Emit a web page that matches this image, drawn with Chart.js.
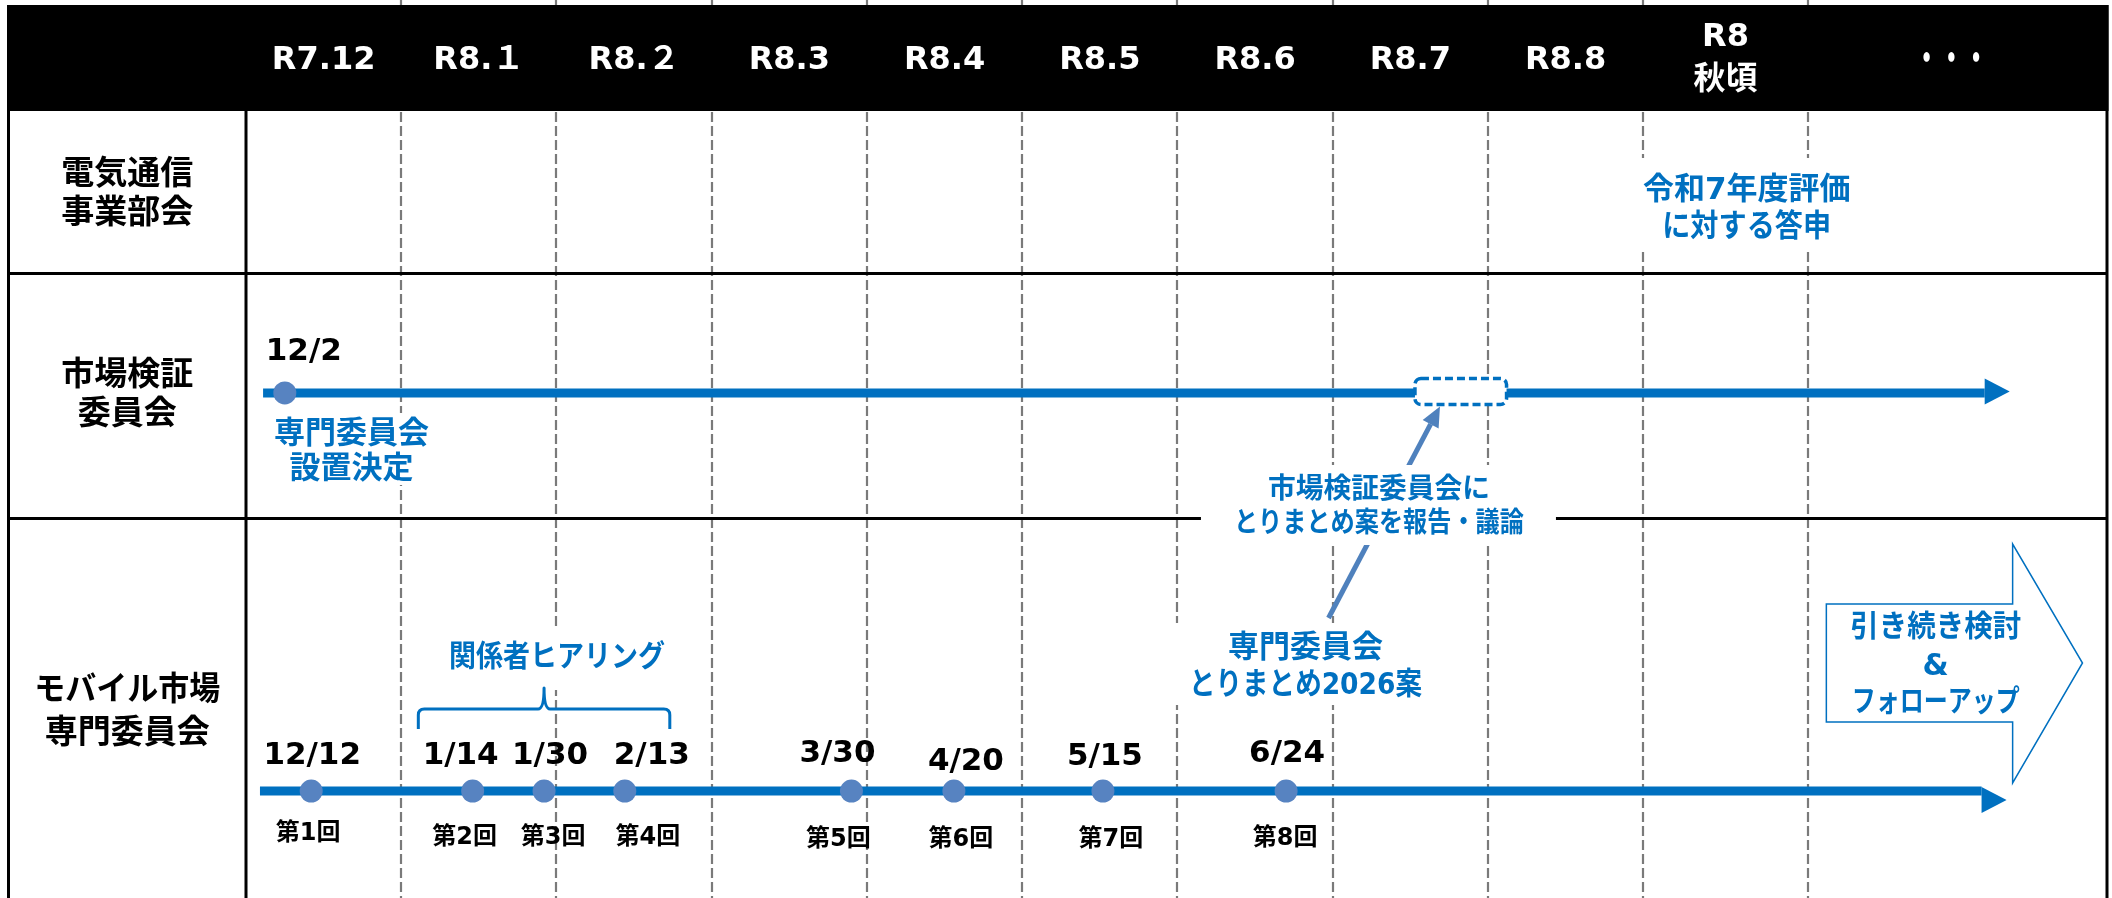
<!DOCTYPE html>
<html lang="ja">
<head>
<meta charset="utf-8">
<script src="https://cdn.jsdelivr.net/npm/chart.js@4.4.1/dist/chart.umd.min.js"></script>
<style>html,body{margin:0;padding:0;background:#fff;overflow:hidden}canvas{display:block}</style>
</head>
<body>
<canvas id="c" width="2112" height="898"></canvas>
<script>
// ===== data =====
const periodLabels = ['R7.12', 'R8.１', 'R8.２', 'R8.3', 'R8.4', 'R8.5', 'R8.6', 'R8.7', 'R8.8', ['R8', '秋頃'], '・・・'];
const periodEdges = [0, 1, 2, 3, 4, 5, 6, 7, 8, 9, 10.06, 11.91]; // month-column boundaries (months from R7.12)
const rowLabels = [['電気通信', '事業部会'], ['市場検証', '委員会'], ['モバイル市場', '専門委員会']];

const committeeDates = ['12/2'];
const committeeX = [0.25];
const committeeSpan = [0.11, 11.20];

const meetingDates = ['12/12', '1/14', '1/30', '2/13', '3/30', '4/20', '5/15', '6/24'];
const meetingNames = ['第1回', '第2回', '第3回', '第4回', '第5回', '第6回', '第7回', '第8回'];
const meetingX = [0.42, 1.46, 1.92, 2.44, 3.90, 4.56, 5.52, 6.70];
const expertSpan = [0.09, 11.18];

const hearingSpan = [1.11, 2.73];
const reportWindow = [7.53, 8.12];
const continueSpan = [10.18, 11.38, 11.83];

// ===== layout / style =====
const X_MAX = 11.946;
const L = {
  top: 5, headerBottom: 111, rowDiv: [273.5, 518.5], left: 8.5, right: 2107, labelRight: 246,
  committeeY: 391.5, expertY: 800,
  headerY: 61, headerY2: [38, 81],
  rowLabelY: [[175, 214], [376, 415], [691, 734]],
  committeeDate: { dx: 19, y: 352 },
  meetDateDx: [1, -12, 6, 27, -14, 12, 2, 1],
  meetDateY: [756, 756, 756, 756, 754, 762, 757, 754],
  meetNthDx: [-3, -8, 9, 23, -13, 7, 8, -1],
  meetNthY: [834, 838, 838, 838, 840, 840, 840, 839]
};
const C = { blue: '#0070C0', dot: '#5783C1', callout: '#4F81BD', grid: '#7A7A7A', black: '#000000' };
const FONT = '"DejaVu Sans","Noto Sans CJK JP",sans-serif';
const notes = [
  { lines: ['令和7年度評価', 'に対する答申'], x: 9.667, ys: [191, 228], size: 31, fit: [0, 169], box: [-125, 125, 158, 252] },
  { lines: ['専門委員会', '設置決定'], x: 0.679, ys: [435, 470], size: 31, fit: [0, 0], box: [-82, 82, 413, 485] },
  { lines: ['市場検証委員会に', 'とりまとめ案を報告・議論'], x: 7.298, ys: [491, 525], size: 28, fit: [222, 290], box: [-178, 177, 465, 545] },
  { lines: ['関係者ヒアリング'], x: 2.004, ys: [658], size: 30, fit: [216], box: [-110, 110, 627, 690] },
  { lines: ['専門委員会', 'とりまとめ2026案'], x: 6.825, ys: [649, 686], size: 31, fit: [0, 233], box: [-140, 140, 623, 705] },
  { lines: ['引き続き検討', '&', 'フォローアップ'], x: 10.884, ys: [628, 667, 703], size: 30, fit: [171, 0, 168] }
];

function drawText(ctx, s, x, y, size, color, fit) {
  ctx.font = 'bold ' + size + 'px ' + FONT;
  ctx.fillStyle = color;
  ctx.textAlign = 'center';
  ctx.textBaseline = 'middle';
  if (fit) ctx.fillText(s, x, y, fit); else ctx.fillText(s, x, y);
}
function hline(ctx, x0, x1, y, w, color) {
  ctx.beginPath(); ctx.moveTo(x0, y); ctx.lineTo(x1, y);
  ctx.lineWidth = w; ctx.strokeStyle = color; ctx.stroke();
}
function vline(ctx, x, y0, y1, w, color) {
  ctx.beginPath(); ctx.moveTo(x, y0); ctx.lineTo(x, y1);
  ctx.lineWidth = w; ctx.strokeStyle = color; ctx.stroke();
}

const tablePlugin = {
  id: 'table',
  beforeDraw(chart) {
    const ctx = chart.ctx;
    ctx.save(); ctx.fillStyle = '#fff'; ctx.fillRect(0, 0, chart.width, chart.height); ctx.restore();
  },
  beforeDatasetsDraw(chart) {
    const ctx = chart.ctx, xs = chart.scales.x;
    const px = v => xs.getPixelForValue(v);
    const H = chart.height;
    ctx.save();
    // dashed month grid
    ctx.setLineDash([10, 4]);
    for (let i = 1; i < periodEdges.length - 1; i++) {
      vline(ctx, Math.round(px(periodEdges[i])), 0, H, 2.2, C.grid);
    }
    ctx.setLineDash([]);
    // header band
    ctx.fillStyle = '#000';
    ctx.fillRect(L.left - 1.5, L.top, L.right + 1.5 - (L.left - 1.5), L.headerBottom - L.top);
    // table borders
    vline(ctx, L.left, L.top, H, 3, C.black);
    vline(ctx, L.right, L.top, H, 3, C.black);
    vline(ctx, L.labelRight, L.headerBottom, H, 3, C.black);
    L.rowDiv.forEach(y => hline(ctx, L.left, L.right, y, 3, C.black));
    // callout arrow (expert summary -> committee report)
    const sx = px(notes[4].x) + 23, sy = 618;
    const ex = px(reportWindow[0]) + 25, ey = L.committeeY + 15;
    const ang = Math.atan2(ey - sy, ex - sx), hl = 20, hw = 9;
    const bx = ex - hl * Math.cos(ang), by = ey - hl * Math.sin(ang);
    ctx.beginPath(); ctx.moveTo(sx, sy); ctx.lineTo(bx, by);
    ctx.lineWidth = 5; ctx.strokeStyle = C.callout; ctx.stroke();
    ctx.beginPath(); ctx.moveTo(ex, ey);
    ctx.lineTo(bx + hw * Math.sin(ang), by - hw * Math.cos(ang));
    ctx.lineTo(bx - hw * Math.sin(ang), by + hw * Math.cos(ang));
    ctx.closePath(); ctx.fillStyle = C.callout; ctx.fill();
    // white backgrounds of notes
    ctx.fillStyle = '#fff';
    notes.forEach(n => {
      if (!n.box) return;
      const cx = px(n.x);
      ctx.fillRect(cx + n.box[0], n.box[2], n.box[1] - n.box[0], n.box[3] - n.box[2]);
    });
    ctx.restore();
  },
  afterDatasetsDraw(chart) {
    const ctx = chart.ctx, xs = chart.scales.x;
    const px = v => xs.getPixelForValue(v);
    ctx.save();
    // arrowheads of the timelines
    [[committeeSpan, L.committeeY, 25, 13], [expertSpan, L.expertY, 25, 13]].forEach(([span, y, len, half]) => {
      const b = px(span[1]);
      ctx.beginPath(); ctx.moveTo(b, y - half); ctx.lineTo(b + len, y); ctx.lineTo(b, y + half);
      ctx.closePath(); ctx.fillStyle = C.blue; ctx.fill();
    });
    // dashed report box
    const r0 = px(reportWindow[0]), r1 = px(reportWindow[1]);
    ctx.beginPath(); ctx.roundRect(r0, L.committeeY - 13, r1 - r0, 26, 6);
    ctx.fillStyle = '#fff'; ctx.fill();
    ctx.setLineDash([8, 4]); ctx.lineWidth = 3.5; ctx.strokeStyle = C.blue; ctx.stroke();
    ctx.setLineDash([]);
    // hearing brace
    const b0 = px(hearingSpan[0]), b1 = px(hearingSpan[1]), bm = (b0 + b1) / 2;
    const yT = 709, yE = 729, yTip = 688;
    ctx.beginPath();
    ctx.moveTo(b0, yE); ctx.lineTo(b0, yT + 6); ctx.quadraticCurveTo(b0, yT, b0 + 6, yT);
    ctx.lineTo(bm - 6, yT); ctx.quadraticCurveTo(bm, yT, bm, yTip);
    ctx.quadraticCurveTo(bm, yT, bm + 6, yT);
    ctx.lineTo(b1 - 6, yT); ctx.quadraticCurveTo(b1, yT, b1, yT + 6); ctx.lineTo(b1, yE);
    ctx.lineWidth = 3; ctx.strokeStyle = C.blue; ctx.lineJoin = 'round'; ctx.stroke();
    // continue block arrow
    const a0 = px(continueSpan[0]), a1 = px(continueSpan[1]), a2 = px(continueSpan[2]);
    ctx.beginPath();
    ctx.moveTo(a0, 604); ctx.lineTo(a1, 604); ctx.lineTo(a1, 544); ctx.lineTo(a2, 663);
    ctx.lineTo(a1, 783); ctx.lineTo(a1, 722); ctx.lineTo(a0, 722); ctx.closePath();
    ctx.fillStyle = '#fff'; ctx.fill(); ctx.lineWidth = 1.5; ctx.lineJoin = 'miter'; ctx.strokeStyle = C.blue; ctx.stroke();

    // header labels
    periodLabels.forEach((lab, i) => {
      const cx = px((periodEdges[i] + periodEdges[i + 1]) / 2);
      if (Array.isArray(lab)) {
        lab.forEach((s, k) => drawText(ctx, s, cx, L.headerY2[k], 32, '#fff'));
      } else if (lab === '・・・') {
        drawText(ctx, lab, cx, L.headerY, 38, '#fff', 74);
      } else {
        drawText(ctx, lab, cx, L.headerY, 32, '#fff');
      }
    });
    // row labels
    const lx = (L.left + L.labelRight) / 2;
    rowLabels.forEach((lines, r) => lines.forEach((s, k) => drawText(ctx, s, lx, L.rowLabelY[r][k], 33, '#000', 186)));
    // committee event date
    committeeDates.forEach((d, i) => drawText(ctx, d, px(committeeX[i]) + L.committeeDate.dx, L.committeeDate.y, 31, '#000'));
    // meeting labels
    meetingDates.forEach((d, i) => {
      drawText(ctx, d, px(meetingX[i]) + L.meetDateDx[i], L.meetDateY[i], 31, '#000');
      drawText(ctx, meetingNames[i], px(meetingX[i]) + L.meetNthDx[i], L.meetNthY[i], 24, '#000');
    });
    // blue notes
    notes.forEach(n => n.lines.forEach((s, k) => drawText(ctx, s, px(n.x), n.ys[k], n.size, C.blue, n.fit[k] || 0)));
    ctx.restore();
  }
};

const ctx = document.getElementById('c').getContext('2d');
new Chart(ctx, {
  type: 'line',
  data: {
    datasets: [
      { label: '市場検証委員会 開催', data: committeeX.map(x => ({ x, y: L.committeeY })), showLine: false,
        pointRadius: 11.5, pointHoverRadius: 11.5, pointBackgroundColor: C.dot, pointBorderWidth: 0, order: 1 },
      { label: '専門委員会 開催', data: meetingX.map(x => ({ x, y: L.expertY })), showLine: false,
        pointRadius: 11.5, pointHoverRadius: 11.5, pointBackgroundColor: C.dot, pointBorderWidth: 0, order: 1 },
      { label: '市場検証委員会', data: committeeSpan.map(x => ({ x, y: L.committeeY })), borderColor: C.blue,
        borderWidth: 9, pointRadius: 0, borderCapStyle: 'butt', order: 2 },
      { label: 'モバイル市場専門委員会', data: expertSpan.map(x => ({ x, y: L.expertY })), borderColor: C.blue,
        borderWidth: 9, pointRadius: 0, borderCapStyle: 'butt', order: 2 }
    ]
  },
  options: {
    responsive: false, animation: false, events: [],
    layout: { padding: { left: L.labelRight, right: 0, top: 0, bottom: 0 } },
    scales: {
      x: { type: 'linear', display: false, min: 0, max: X_MAX },
      y: { type: 'linear', display: false, min: 0, max: 898, reverse: true }
    },
    plugins: { legend: { display: false }, tooltip: { enabled: false } }
  },
  plugins: [tablePlugin]
});
</script>
</body>
</html>
